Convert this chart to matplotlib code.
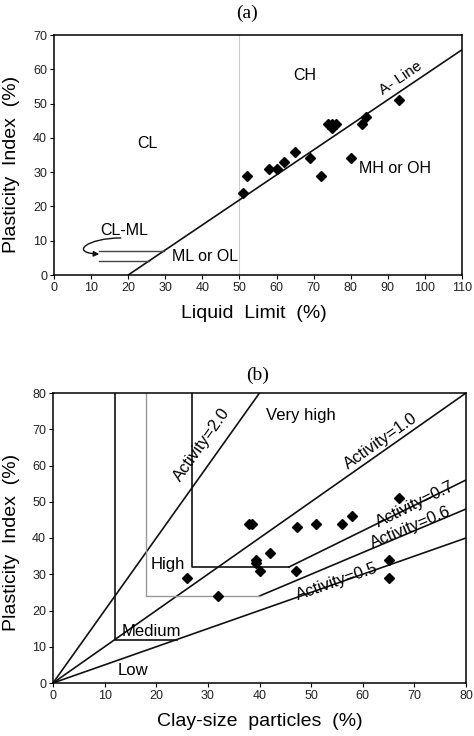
import numpy as np
import matplotlib
matplotlib.use("Agg")
import matplotlib.pyplot as plt
from matplotlib.patches import FancyArrowPatch
from matplotlib.path import Path

plt.rcParams['font.family'] = ['Liberation Sans', 'DejaVu Sans']

# (a) plasticity chart data
ll_values = [51, 52, 58, 60, 62, 65, 69, 72, 74, 75, 76, 75, 80, 83, 84, 93]
pi_values_a = [24, 29, 31, 31, 33, 36, 34, 29, 44, 44, 44, 43, 34, 44, 46, 51]
a_line_ll = [20, 110]
ml_upper_pi = 7
ml_lower_pi = 4

# (b) activity chart data
clay_values = [26, 32, 38, 38.5, 39.3, 39.3, 40, 42, 47, 47.3, 51, 56, 58, 65, 65, 67]
pi_values_b = [29, 24, 44, 44, 34, 33, 31, 36, 31, 43, 44, 44, 46, 34, 29, 51]
activities = [2.0, 1.0, 0.7, 0.6, 0.5]
# boundaries of the activity zones: (vertical x, horizontal PI)
medium_box = (12, 12)
grey_box = (18, 24)
high_box = (27, 32)

DARK = '#111111'

fig = plt.figure(figsize=(4.74, 7.36), dpi=100)

# ---------------- panel (a) ----------------
ax1 = fig.add_axes([54/474, 1 - 275/736, 408/474, 240/736])
ax1.set_xlim(0, 110)
ax1.set_ylim(0, 70)

# LL = 50 divider
ax1.plot([50, 50], [0, 70], color='#cccccc', lw=0.8, zorder=1)

# A-line
a_x = np.array(a_line_ll)
ax1.plot(a_x, 0.73 * (a_x - 20), color=DARK, lw=1.2, zorder=2)

# CL-ML band
ax1.plot([12, ml_upper_pi / 0.73 + 20], [ml_upper_pi] * 2, color='#444444', lw=1.0)
ax1.plot([12, ml_lower_pi / 0.73 + 20], [ml_lower_pi] * 2, color='#444444', lw=1.0)
curve = Path([(18, 10.8), (9, 10.8), (4, 6.5), (12.2, 6.1)],
             [Path.MOVETO, Path.CURVE4, Path.CURVE4, Path.CURVE4])
ax1.add_patch(FancyArrowPatch(path=curve, arrowstyle='-|>', mutation_scale=8,
                              color=DARK, lw=1.0))

ax1.plot(ll_values, pi_values_a, 'D', color='black', ms=5, zorder=3)

ax1.text(67.6, 58.3, 'CH', fontsize=11.5, ha='center', va='center')
ax1.text(25.3, 38.4, 'CL', fontsize=11.5, ha='center', va='center')
ax1.text(92, 31.1, 'MH or OH', fontsize=11.5, ha='center', va='center')
ax1.text(19, 13.1, 'CL-ML', fontsize=11.5, ha='center', va='center')
ax1.text(40.6, 5.3, 'ML or OL', fontsize=11.5, ha='center', va='center')
ax1.text(93.4, 57.4, 'A- Line', fontsize=11, ha='center', va='center',
         rotation=np.degrees(np.arctan(0.73)), rotation_mode='anchor',
         transform_rotates_text=True)

ax1.set_xticks(range(0, 111, 10))
ax1.set_yticks(range(0, 71, 10))
ax1.set_xlabel('Liquid  Limit  (%)', fontsize=14)
ax1.set_ylabel('Plasticity  Index  (%)', fontsize=14)
ax1.xaxis.set_label_coords(0.49, -0.125)
ax1.yaxis.set_label_coords(-0.083, 0.46)

# ---------------- panel (b) ----------------
ax2 = fig.add_axes([53/474, 1 - 683/736, 413/474, 290/736])
ax2.set_xlim(0, 80)
ax2.set_ylim(0, 80)

for act in activities:
    if act == 0.7:
        x0 = high_box[1] / act
    elif act == 0.6:
        x0 = grey_box[1] / act
    else:
        x0 = 0
    x1 = min(80, 80 / act)
    ax2.plot([x0, x1], [act * x0, act * x1], color=DARK, lw=1.2, zorder=2)

mx, my = medium_box
ax2.plot([mx, mx, my / 0.5], [80, my, my], color=DARK, lw=1.2)
gx, gy = grey_box
ax2.plot([gx, gx, gy / 0.6], [80, gy, gy], color='#999999', lw=1.0)
hx, hy = high_box
ax2.plot([hx, hx, hy / 0.7], [80, hy, hy], color=DARK, lw=1.2)

ax2.plot(clay_values, pi_values_b, 'D', color='black', ms=5, zorder=3)

lab_kw = dict(fontsize=12, ha='center', va='center', rotation_mode='anchor',
              transform_rotates_text=True)
ax2.text(28.8, 65.7, 'Activity=2.0', rotation=np.degrees(np.arctan(2.0)), **lab_kw)
ax2.text(63.4, 66.7, 'Activity=1.0', rotation=np.degrees(np.arctan(1.0)), **lab_kw)
ax2.text(70.2, 49.2, 'Activity=0.7', rotation=np.degrees(np.arctan(0.7)), **lab_kw)
ax2.text(69.2, 42.8, 'Activity=0.6', rotation=np.degrees(np.arctan(0.6)), **lab_kw)
ax2.text(55, 28.0, 'Activity=0.5', rotation=np.degrees(np.arctan(0.5)), **lab_kw)
ax2.text(48, 73.7, 'Very high', fontsize=12, ha='center', va='center')
ax2.text(22.3, 32.7, 'High', fontsize=12, ha='center', va='center')
ax2.text(19.1, 14.1, 'Medium', fontsize=12, ha='center', va='center')
ax2.text(15.5, 3.4, 'Low', fontsize=12, ha='center', va='center')

ax2.set_xticks(range(0, 81, 10))
ax2.set_yticks(range(0, 81, 10))
ax2.set_xlabel('Clay-size  particles  (%)', fontsize=14)
ax2.set_ylabel('Plasticity  Index  (%)', fontsize=14)
ax2.xaxis.set_label_coords(0.50, -0.103)
ax2.yaxis.set_label_coords(-0.08, 0.483)

for ax in (ax1, ax2):
    ax.tick_params(direction='out', length=3, width=0.8, labelsize=9,
                   labelcolor='#222222', pad=2)
    for sp in ax.spines.values():
        sp.set_linewidth(1.1)

fig.text(247/474, 1 - 13/736, '(a)', fontsize=14, ha='center', va='center',
         family=['Liberation Serif', 'DejaVu Serif'])
fig.text(258/474, 1 - 375/736, '(b)', fontsize=14, ha='center', va='center',
         family=['Liberation Serif', 'DejaVu Serif'])

fig.savefig('out.png', dpi=100)
